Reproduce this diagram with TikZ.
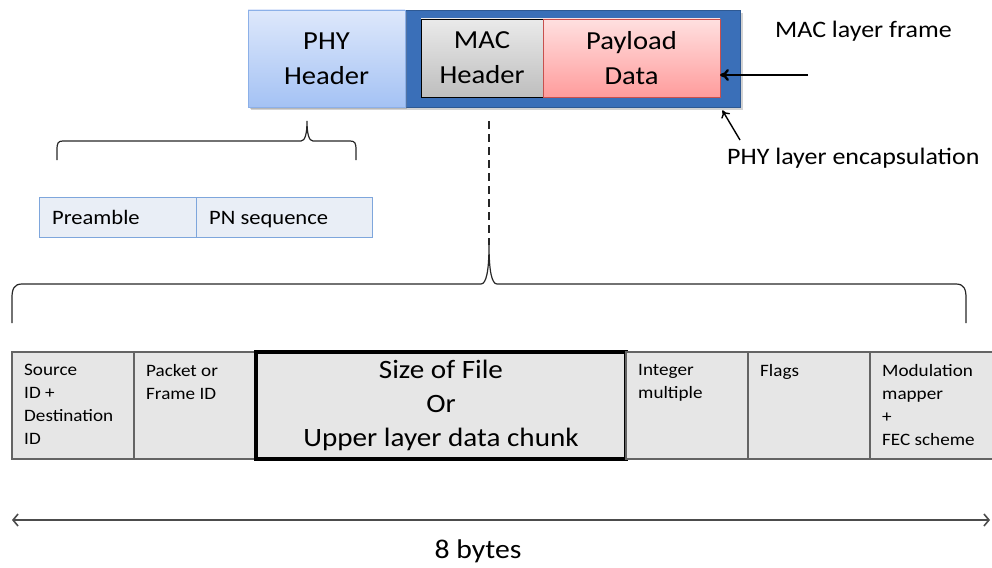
\documentclass[tikz,border=0pt]{standalone}
\usepackage{fontspec}
\setmainfont{Carlito}[FakeStretch=1.1]
\usetikzlibrary{positioning,arrows.meta,shadows}

\definecolor{encblue}{RGB}{58,111,184}
\definecolor{phytop}{RGB}{222,232,251}
\definecolor{phybot}{RGB}{164,194,244}
\definecolor{phyline}{RGB}{140,176,232}
\definecolor{mactop}{RGB}{234,234,234}
\definecolor{macbot}{RGB}{190,190,190}
\definecolor{paytop}{RGB}{255,224,224}
\definecolor{paybot}{RGB}{255,156,156}
\definecolor{payline}{RGB}{200,80,77}
\definecolor{fieldgray}{RGB}{230,230,230}
\definecolor{fieldline}{RGB}{100,100,100}
\definecolor{pnfill}{RGB}{233,238,246}
\definecolor{pnline}{RGB}{126,166,220}

\tikzset{
  bigtext/.style={font=\fontsize{26}{35}\selectfont, align=center, inner sep=0pt, outer sep=0pt},
  encframe/.style={fill=encblue, draw=encblue!80!black, drop shadow={opacity=0.35}},
  phyhead/.style={bigtext, top color=phytop, bottom color=phybot, draw=phyline, drop shadow={opacity=0.35}},
  machead/.style={bigtext, top color=mactop, bottom color=macbot, draw=black, line width=0.8pt},
  payload/.style={bigtext, top color=paytop, bottom color=paybot, draw=payline, line width=0.8pt},
  lbl/.style={font=\fontsize{23.6}{28}\selectfont, inner sep=0pt},
  pointer/.style={-{To[length=9pt,width=12pt]}, line width=2.4pt},
  thinpointer/.style={-{To[length=7pt,width=10pt]}, line width=1.4pt},
  bracket/.style={line width=1.2pt, black!85},
  pncell/.style={draw=pnline, fill=pnfill, line width=1pt, minimum height=40, inner sep=0pt, outer sep=0pt},
  pntext/.style={font=\fontsize{20.5}{24}\selectfont, anchor=base west, inner sep=0pt},
  field/.style={draw=fieldline, fill=fieldgray, line width=1.3pt, minimum width=122, minimum height=107, inner sep=0pt, outer sep=0pt},
  fieldtext/.style={font=\fontsize{17.4}{23}\selectfont, align=left, anchor=north west, inner xsep=12pt, inner ysep=12pt},
  dim/.style={{Straight Barb[length=5pt,width=12pt]}-{Straight Barb[length=5pt,width=12pt]}, line width=1.6pt, black!70},
}

\begin{document}
\begin{tikzpicture}[x=1pt,y=-1pt]
\useasboundingbox (0,0) rectangle (992,567);

% PHY frame with the MAC frame inside
\node[encframe, minimum width=492, minimum height=97, anchor=north west] (enc) at (248,10) {};
\node[phyhead, minimum width=157, minimum height=97, anchor=north west] (phyhdr) at (248,10) {PHY\\Header};
\node[machead, minimum width=122, minimum height=78, anchor=north west] (machdr) at (421,19) {MAC\\Header};
\node[payload, minimum width=177, minimum height=78, right=0pt of machdr] (payload) {Payload\\Data};

\node[lbl, anchor=west] (maclbl) at (775,31) {MAC layer frame};
\node[lbl, anchor=west] (enclbl) at (727,158) {PHY layer encapsulation};
\coordinate (macfrom) at (808,75);
\coordinate (encfrom) at (740,140);
\draw[pointer] (macfrom) -- (payload.east |- macfrom);
\draw[thinpointer] (encfrom) -- ([xshift=-18pt,yshift=-3pt]enc.south east);

% braces
\draw[bracket] (57,160) -- (57,150) .. controls (57,143) and (58,141) .. (63,141) -- (301,141)
  .. controls (305,141) and (307,134) .. (307,121) .. controls (307,134) and (309,141) .. (313,141)
  -- (350,141) .. controls (355,141) and (356,143) .. (356,150) -- (356,160);
\coordinate (dashtop) at (489,121);
\coordinate (bracetip) at (489,245);
\draw[bracket, dashed, dash pattern=on 8pt off 5pt] (dashtop) -- (bracetip);
\draw[bracket] (12,323) -- (12,298) .. controls (12,289) and (14,284) .. (22,284) -- (481,284)
  .. controls (486,284) and (489,272) .. (bracetip) .. controls (489,272) and (492,284) .. (497,284)
  -- (956,284) .. controls (964,284) and (966,289) .. (966,298) -- (966,323);

% PHY header fields
\node[pncell, minimum width=157, anchor=north west] (pream) at (39,197) {};
\node[pncell, minimum width=176, right=0pt of pream] (pnseq) {};
\node[pntext] (preamtxt) at ([xshift=13pt,yshift=-7pt]pream.west) {Preamble};
\node[pntext] (pnseqtxt) at ([xshift=13pt,yshift=-7pt]pnseq.west) {PN sequence};

% MAC header fields
\node[field, anchor=north west, label={[fieldtext]north west:{Source\\ID +\\Destination\\ID}}] (srcid) at (12,352) {};
\node[field, right=0pt of srcid, label={[fieldtext]north west:{Packet or\\Frame ID}}] (frameid) {};
\node[field, right=0pt of frameid, minimum width=370, draw=black, line width=3.5pt, font=\fontsize{26.5}{34}\selectfont, align=center] (filesize) {Size of File\\Or\\Upper layer data chunk};
\node[field, right=0pt of filesize, label={[fieldtext]north west:{Integer\\multiple}}] (intmul) {};
\node[field, right=0pt of intmul, label={[fieldtext]north west:{Flags}}] (flags) {};
\node[field, right=0pt of flags, minimum width=126, label={[fieldtext]north west:{Modulation\\mapper\\+\\FEC scheme}}] (modfec) {};

% total length
\coordinate (dimL) at (12,520);
\coordinate (dimR) at (990,520);
\draw[dim] (dimL) -- (dimR);
\node[font=\fontsize{27}{32}\selectfont, inner sep=0pt] (bytes) at (478,551) {8 bytes};
\end{tikzpicture}
\end{document}
